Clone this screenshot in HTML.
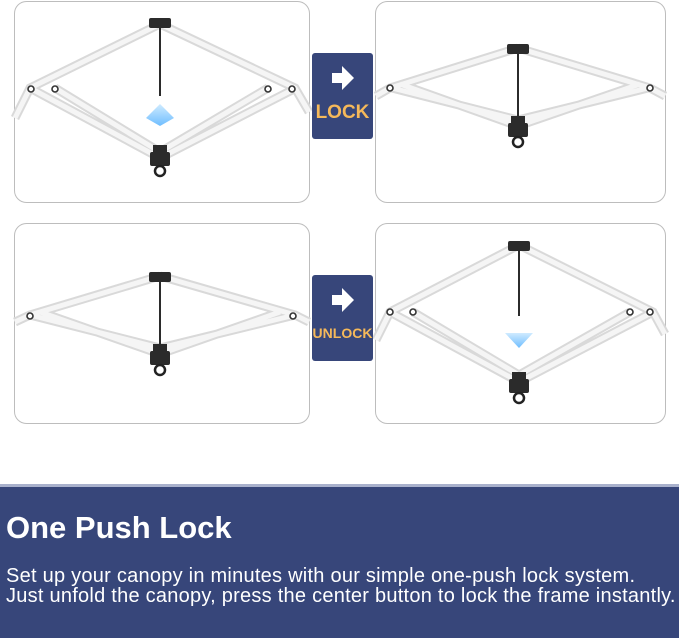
<!DOCTYPE html>
<html><head><meta charset="utf-8"><style>
body{margin:0;width:679px;height:638px;background:#fff;overflow:hidden;position:relative;font-family:"Liberation Sans",sans-serif}
.band{position:absolute;left:0;top:484px;width:679px;height:154px;background:#37467a;border-top:3px solid #a9b1cc;box-sizing:border-box}
h1{position:absolute;left:6px;top:510px;margin:0;color:#fff;font-size:31px;font-weight:bold;font-family:"Liberation Sans",sans-serif}
p{position:absolute;left:6px;top:566px;margin:0;color:#fff;font-size:20px;line-height:20px;letter-spacing:0.25px;font-family:"Liberation Sans",sans-serif;white-space:nowrap}
</style></head><body>
<svg width="679" height="484" style="position:absolute;left:0;top:0">
<defs>
<linearGradient id="bl" x1="0" y1="0" x2="0" y2="1"><stop offset="0" stop-color="#bfe4ff"/><stop offset="1" stop-color="#3fa8ff"/></linearGradient>
<g id="hub"><rect x="-11" y="-4" width="22" height="10" rx="2" fill="#2b2b2b"/></g>
<g id="bot"><rect x="-7" y="-6" width="14" height="8" fill="#2b2b2b"/><rect x="-10" y="1" width="20" height="14" rx="2" fill="#2b2b2b"/><circle cx="0" cy="20" r="5" fill="none" stroke="#222" stroke-width="2.5"/></g>
</defs>
<g fill="none" stroke="#bdbdbd">
<rect x="14.5" y="1.5" width="295" height="201" rx="12"/>
<rect x="375.5" y="1.5" width="290" height="201" rx="12"/>
<rect x="14.5" y="223.5" width="295" height="200" rx="12"/>
<rect x="375.5" y="223.5" width="290" height="200" rx="12"/>
</g>
<g stroke-linecap="butt" fill="none">
<g stroke="#d9d9d9" stroke-width="9">
<path d="M160 24 L30 88 L15 118 M160 24 L295 88 L309 112 M55 88 L160 152 M30 88 L160 158 M268 88 L160 152 M296 88 L160 158"/>
<path d="M518 48 L390 88 L376 96 M518 48 L650 88 L665 96 M392 88 L518 120 M400 84 L518 126 M648 88 L518 120 M640 84 L518 126"/>
<path d="M160 276 L30 315 L15 322 M160 276 L295 315 L309 322 M30 315 L160 348 M40 312 L160 354 M295 315 L160 348 M280 312 L160 354"/>
<path d="M519 245 L390 312 L376 340 M519 245 L653 312 L665 334 M413 312 L519 375 M390 312 L519 382 M630 312 L519 375 M653 312 L519 382"/>
</g>
<g stroke="#f5f5f5" stroke-width="5">
<path d="M160 24 L30 88 L15 118 M160 24 L295 88 L309 112 M55 88 L160 152 M30 88 L160 158 M268 88 L160 152 M296 88 L160 158"/>
<path d="M518 48 L390 88 L376 96 M518 48 L650 88 L665 96 M392 88 L518 120 M400 84 L518 126 M648 88 L518 120 M640 84 L518 126"/>
<path d="M160 276 L30 315 L15 322 M160 276 L295 315 L309 322 M30 315 L160 348 M40 312 L160 354 M295 315 L160 348 M280 312 L160 354"/>
<path d="M519 245 L390 312 L376 340 M519 245 L653 312 L665 334 M413 312 L519 375 M390 312 L519 382 M630 312 L519 375 M653 312 L519 382"/>
</g>
</g>
<g stroke="#2b2b2b" stroke-width="2">
<line x1="160" y1="24" x2="160" y2="96"/>
<line x1="518" y1="48" x2="518" y2="120"/>
<line x1="160" y1="276" x2="160" y2="348"/>
<line x1="519" y1="245" x2="519" y2="316"/>
</g>
<g fill="#fff" stroke="#333" stroke-width="1.6">
<circle cx="31" cy="89" r="3"/><circle cx="55" cy="89" r="3"/><circle cx="268" cy="89" r="3"/><circle cx="292" cy="89" r="3"/>
<circle cx="390" cy="88" r="3"/><circle cx="650" cy="88" r="3"/>
<circle cx="30" cy="316" r="3"/><circle cx="293" cy="316" r="3"/>
<circle cx="390" cy="312" r="3"/><circle cx="413" cy="312" r="3"/><circle cx="630" cy="312" r="3"/><circle cx="650" cy="312" r="3"/>
</g>
<use href="#hub" x="160" y="22"/><use href="#hub" x="518" y="48"/><use href="#hub" x="160" y="276"/><use href="#hub" x="519" y="245"/>
<use href="#bot" x="160" y="151"/><use href="#bot" x="518" y="122"/><use href="#bot" x="160" y="350"/><use href="#bot" x="519" y="378"/>
<path d="M146 118 L160 104 L174 118 L160 126 Z" fill="url(#bl)" opacity="0.75"/>
<path d="M505 333 L533 333 L519 348 Z" fill="url(#bl)" opacity="0.75"/>
<rect x="312" y="53" width="61" height="86" rx="3" fill="#37467a"/>
<rect x="312" y="275" width="61" height="86" rx="3" fill="#37467a"/>
<path d="M332 73 h10 v-7 l12 12 l-12 12 v-7 h-10 z" fill="#fff"/>
<path d="M332 295 h10 v-7 l12 12 l-12 12 v-7 h-10 z" fill="#fff"/>
<text x="342.5" y="118" text-anchor="middle" fill="#f6b95a" font-family="Liberation Sans, sans-serif" font-weight="bold" font-size="19">LOCK</text>
<text x="342.5" y="338" text-anchor="middle" fill="#f6b95a" font-family="Liberation Sans, sans-serif" font-weight="bold" font-size="14">UNLOCK</text>
</svg>
<div class="band"></div>
<h1>One Push Lock</h1>
<p>Set up your canopy in minutes with our simple one-push lock system.<br>Just unfold the canopy, press the center button to lock the frame instantly.</p>
</body></html>
